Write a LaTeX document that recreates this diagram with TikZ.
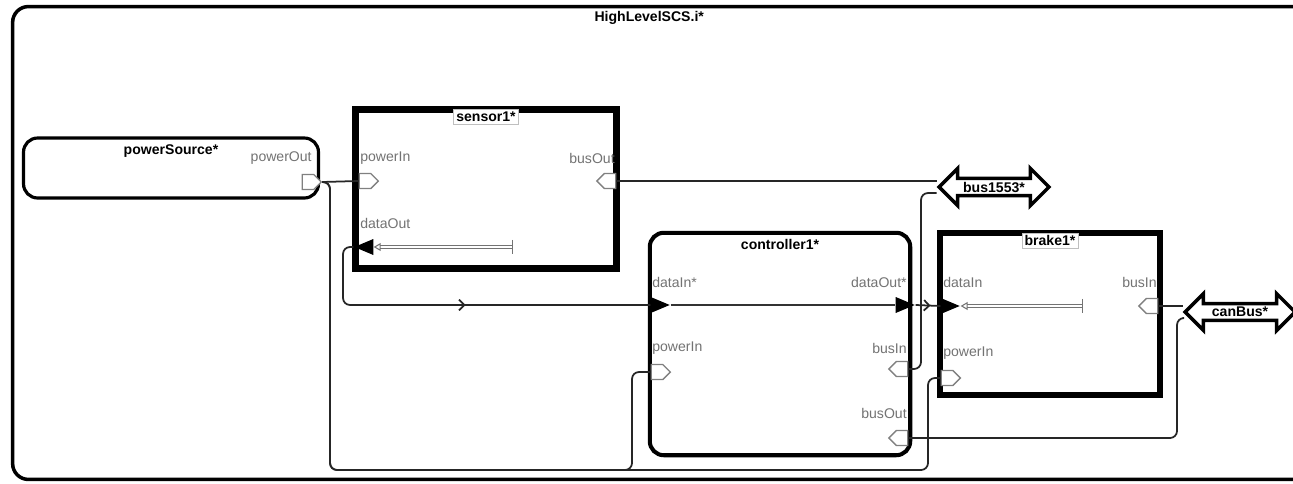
\documentclass[tikz,border=0pt]{standalone}
\usepackage{fontspec}
\setmainfont{Liberation Sans}
\usetikzlibrary{shapes.geometric, shapes.symbols, shapes.arrows}
\usetikzlibrary{arrows.meta, positioning, decorations.markings}

\begin{document}
\begin{tikzpicture}[
  x=0.02cm, y=-0.02cm, >=Latex,
  sys/.style={draw=black, line width=2pt, rounded corners=9pt,
              minimum width=26.1cm, minimum height=9.46cm, inner sep=0pt},
  comp/.style={draw=black, line width=2pt, rounded corners=8pt, fill=white, inner sep=0pt},
  dev/.style={draw=black, line width=4pt, fill=white, inner sep=0pt},
  ttl/.style={font=\footnotesize\bfseries, inner sep=1.5pt},
  dttl/.style={ttl, fill=white, draw=black!25, line width=0.4pt},
  plab/.style={font=\footnotesize, text=black!55, inner sep=0pt},
  pR/.style={signal, signal to=east, draw=black!50, fill=white, line width=0.8pt,
             minimum width=0.38cm, minimum height=0.3cm, inner sep=0pt},
  pL/.style={pR, signal to=west},
  dR/.style={isosceles triangle, isosceles triangle stretches, fill=black, inner sep=0pt,
             minimum width=0.32cm, minimum height=0.38cm, shape border rotate=0},
  dL/.style={dR, shape border rotate=180},
  busarr/.style={double arrow, draw=black, line width=2pt, fill=white,
                 double arrow head extend=0.2cm, minimum height=2.2cm,
                 minimum width=0.42cm, inner sep=1pt, font=\footnotesize\bfseries},
  wire/.style={draw=black!85, line width=1pt, rounded corners=4pt},
  cline/.style={draw=black!80, line width=1pt},
  iflow/.style={draw=black!55, line width=0.6pt, double=white, double distance=0.7pt,
                arrows={Bar[width=8pt]-Triangle[open, length=4pt, width=4.5pt]}},
  midarrow/.style={postaction={decorate}, decoration={markings,
                   mark=at position #1 with {\arrow{Straight Barb[length=3pt, width=6pt]}}}}]
\useasboundingbox (0,0) rectangle (1293,483);
\clip (0,0) rectangle (1293,483);
% system frame
\node[sys] (top) at (665,243) {};
\node[ttl, below=2pt of top.north, xshift=-9pt] (topT) {HighLevelSCS.i*};
% components and devices
\node[comp, line width=1.8pt, minimum width=5.9cm, minimum height=1.2cm] (ps) at (171,168) {};
\node[ttl, below=3pt of ps.north] (psT) {powerSource*};
\node[dev, minimum width=5.22cm, minimum height=3.18cm] (s1) at (486,189) {};
\node[dttl, below=1.5pt of s1.north] (s1T) {sensor1*};
\node[comp, line width=2.3pt, minimum width=5.21cm, minimum height=4.45cm] (c1) at (780,344) {};
\node[ttl, below=3pt of c1.north] (c1T) {controller1*};
\node[dev, line width=3.5pt, minimum width=4.4cm, minimum height=3.24cm] (b1) at (1050,314) {};
\node[dttl, below=1.5pt of b1.north] (b1T) {brake1*};
% buses
\node[busarr] (bus) at (994,187) {bus1553*};
\node[busarr] (can) at (1240,312) {canBus*};
% port labels
\node[plab, anchor=east] (psOutL) at (312,158) {powerOut};
\node[plab, anchor=west] (s1pInL) at (360,158) {powerIn};
\node[plab, anchor=east] (s1bOutL) at (615,158) {busOut};
\node[plab, anchor=west] (s1dOutL) at (360,223) {dataOut};
\node[plab, anchor=west] (c1dInL) at (652,282) {dataIn*};
\node[plab, anchor=east] (c1dOutL) at (907,282) {dataOut*};
\node[plab, anchor=west] (c1pInL) at (652,348) {powerIn};
\node[plab, anchor=east] (c1bInL) at (907,348) {busIn};
\node[plab, anchor=east] (c1bOutL) at (907,413) {busOut};
\node[plab, anchor=west] (b1dInL) at (943,282) {dataIn};
\node[plab, anchor=east] (b1bInL) at (1157,282) {busIn};
\node[plab, anchor=west] (b1pInL) at (943,353) {powerIn};
% internal flows
\coordinate (s1bar) at (513,247);
\coordinate (b1bar) at (1083,306);
% wires
\node[pR] (psOut) at (308,182) {};
\node[pR] (s1pIn) at (365,181) {};
\node[pR] (c1pIn) at (657,372) {};
\node[pR] (b1pIn) at (947,378) {};
\draw[wire] (psOut.east) -- (s1pIn.west);
\draw[wire] (psOut.east) -| (330,470) -| (632,372) -- (c1pIn.west);
\draw[wire] (psOut.east) -| (330,470) -| (928,378) -- (b1pIn.west);
\node[pL] (s1bOut) at (610,181) {};
\node[pL] (c1bIn) at (902,369) {};
\node[pL] (c1bOut) at (902,438) {};
\node[pL] (b1bIn) at (1152,306) {};
\draw[wire] (s1bOut.east) -- (s1bOut.east -| bus.west);
\draw[wire] (c1bIn.east) -| (921,193) -- (bus.west |- 921,193);
\draw[wire] (c1bOut.east) -| (1177,318) -- (can.west |- 1177,318);
\draw[wire] (b1bIn.east) -- (b1bIn.east -| can.west);
\node[dL] (s1dOut) at (368,247) {};
\node[dR] (c1dIn) at (656,305) {};
\node[dR] (c1dOut) at (901,305) {};
\node[dR] (b1dIn) at (946,306) {};
\draw[wire, midarrow=0.5] (s1dOut.west) -| (343,305) -- (c1dIn.west);
\draw[wire, midarrow=0.6] (c1dOut.east) -- (b1dIn.west);
\draw[cline] (c1dIn.east) -- (c1dOut.west);
\draw[iflow] (s1bar) -- (s1dOut.east);
\draw[iflow] (b1bar) -- (b1dIn.east);
\end{tikzpicture}
\end{document}
